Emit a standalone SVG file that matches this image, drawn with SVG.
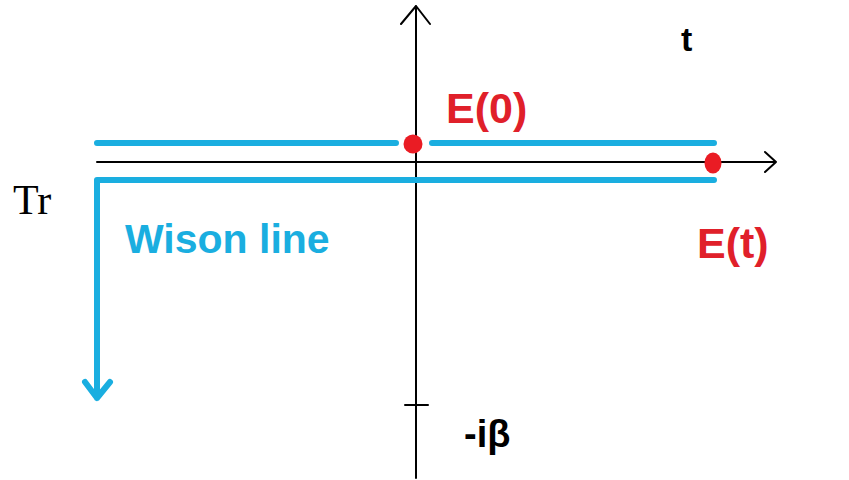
<svg xmlns="http://www.w3.org/2000/svg" width="849" height="480" viewBox="0 0 849 480">
<style>
.ax{stroke:#000;stroke-width:2;fill:none;stroke-linecap:round;stroke-linejoin:round}
.bl{stroke:#1aaee0;stroke-width:6;fill:none;stroke-linecap:round;stroke-linejoin:round}
.dot{fill:#ea1c24}
.lbl{font-family:"Liberation Sans",Arial,sans-serif;font-weight:bold}
.red{fill:#e0202a}
.blue{fill:#1aaee0}
</style>
<rect width="849" height="480" fill="#fff"/>
<g id="connectors">
<path class="ax" d="M416,478 V6 M401,24 L416,6 L430,24"/>
<path class="ax" d="M97,162 H776 M765,152 L776,162 L765,172"/>
<path class="ax" d="M405,405 H428"/>
<path class="bl" d="M97,143 H396 M432,143 H714"/>
<path class="bl" d="M714,180 H97 V398 M85,382 L97,398 L110,382"/>
</g>
<g id="E0"><ellipse class="dot" cx="413" cy="144" rx="9.5" ry="9.5"/><text class="lbl red" x="446" y="123" font-size="43">E(0)</text></g>
<g id="Et"><ellipse class="dot" cx="713" cy="163" rx="8.5" ry="10.5"/><text class="lbl red" x="697" y="258" font-size="43">E(t)</text></g>
<g id="t"><text class="lbl" x="681" y="51" font-size="34">t</text></g>
<g id="wilson"><text class="lbl blue" x="125" y="253" font-size="41">Wison line</text></g>
<g id="Tr"><text x="13" y="214" font-family="Liberation Serif,'Times New Roman',serif" font-size="42">Tr</text></g>
<g id="beta"><text class="lbl" x="464" y="447" font-size="38">-iβ</text></g>
</svg>
